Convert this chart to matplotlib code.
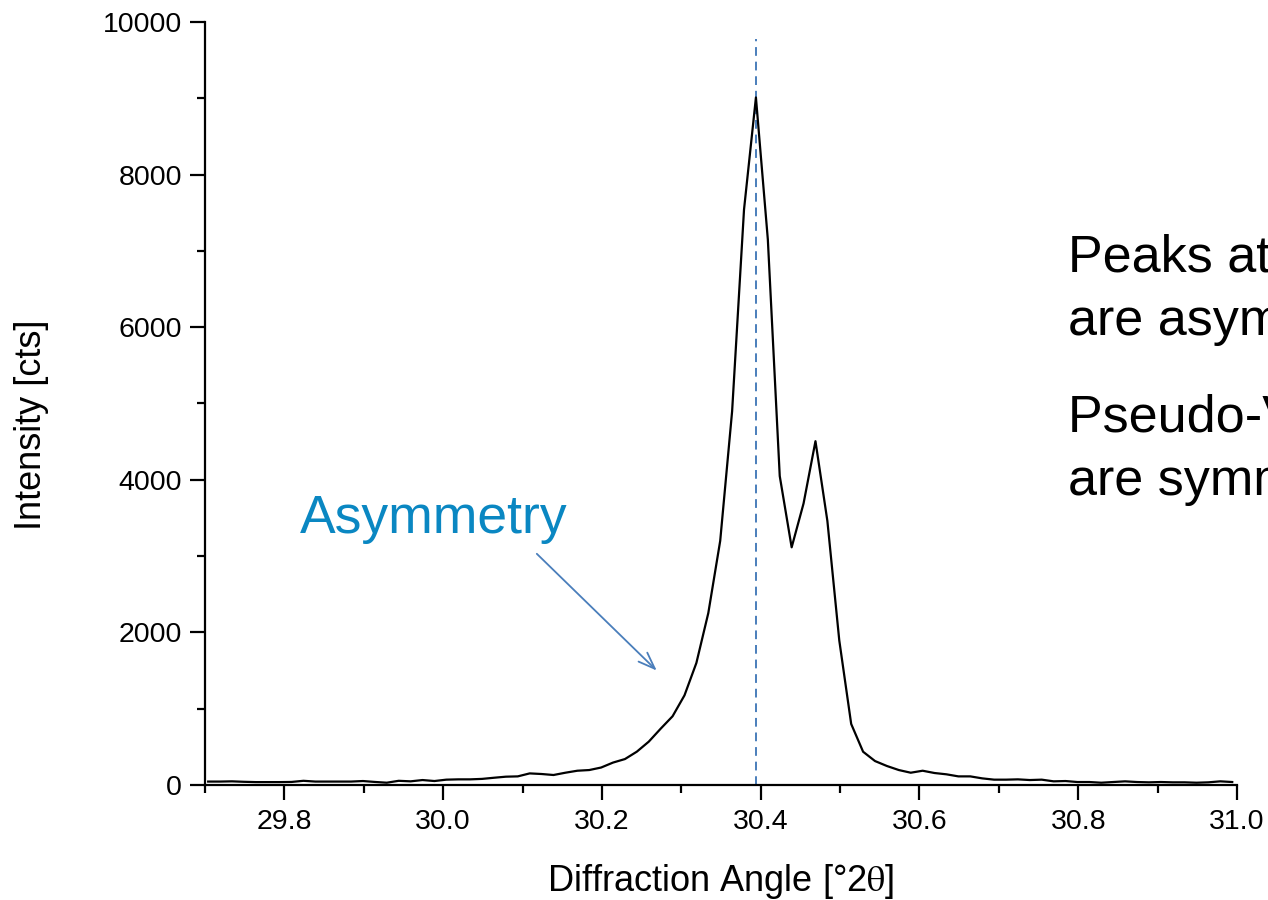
import numpy as np
import matplotlib
matplotlib.use("Agg")
import matplotlib.pyplot as plt
from matplotlib.ticker import MultipleLocator

plt.rcParams['font.family'] = ['Liberation Sans', 'DejaVu Sans']
plt.rcParams['mathtext.fontset'] = 'stix'

# Scan grid (start, step) and measured intensities
angle_start = 29.704
angle_step = 0.015
intensity = [45, 45, 48, 42, 38, 38, 38, 40, 55, 45,
             45, 45, 45, 52, 40, 30, 55, 48, 65, 52,
             70, 74, 74, 80, 95, 109, 113, 152, 144, 131,
             161, 187, 196, 229, 294, 340, 437, 568, 738, 901,
             1175, 1600, 2253, 3200, 4898, 7542, 9011, 7150, 4049, 3115,
             3690, 4506, 3461, 1894, 800, 436, 314, 249, 196, 161,
             187, 157, 140, 113, 113, 87, 70, 70, 74, 65,
             70, 48, 52, 39, 39, 30, 39, 48, 39, 35,
             39, 35, 35, 30, 35, 48, 39]
angle = np.round(angle_start + angle_step * np.arange(len(intensity)), 4)

peak_position = 30.394
peak_line_top = 9780

arrow_start = (30.118, 3030)
arrow_end = (30.269, 1500)

x_ticks = [29.8, 30.0, 30.2, 30.4, 30.6, 30.8, 31.0]
y_ticks = [0, 2000, 4000, 6000, 8000, 10000]

fig = plt.figure(figsize=(12.68, 9.0), dpi=100)
ax = fig.add_axes([205/1268, 1 - 785/900, (1237-205)/1268, (785-22)/900])

ax.plot(angle, intensity, color='black', lw=1.6, zorder=3, clip_on=False)
ax.plot([peak_position, peak_position], [0, peak_line_top], color='#4a7ebb',
        lw=1.4, ls=(0, (4.5, 3)), zorder=2)

ax.annotate('', xy=arrow_end, xytext=arrow_start,
            arrowprops=dict(arrowstyle='->,head_length=1.2,head_width=0.45',
                            color='#4a7ebb', lw=1.3, shrinkA=0, shrinkB=0))
ax.text(29.819, 3300, 'Asymmetry', color='#0a87c2', fontsize=38.5,
        ha='left', va='baseline')

fs_note = 37.5
fig.text(1068/1268, 1 - 272/900, 'Peaks at low angles', fontsize=fs_note,
         ha='left', va='baseline')
fig.text(1068/1268, 1 - 335/900, 'are asymmetric', fontsize=fs_note,
         ha='left', va='baseline')
fig.text(1068/1268, 1 - 432/900, 'Pseudo-Voigt profiles', fontsize=fs_note,
         ha='left', va='baseline')
fig.text(1068/1268, 1 - 495/900, 'are symmetric', fontsize=fs_note,
         ha='left', va='baseline')

ax.set_xlim(29.7, 31.0)
ax.set_ylim(0, 10000)
ax.set_xticks(x_ticks)
ax.set_xticklabels([f'{v:.1f}' for v in x_ticks])
ax.set_yticks(y_ticks)
ax.set_yticklabels([str(v) for v in y_ticks])
ax.xaxis.set_minor_locator(MultipleLocator(0.1))
ax.yaxis.set_minor_locator(MultipleLocator(1000))

for s in ['top', 'right']:
    ax.spines[s].set_visible(False)
for s in ['left', 'bottom']:
    ax.spines[s].set_linewidth(1.6)

ax.tick_params(which='major', direction='out', length=10.5, width=1.6,
               labelsize=20.5, pad=6)
ax.tick_params(which='minor', direction='out', length=5.5, width=1.6)
ax.tick_params(axis='x', which='major', pad=7)

ax.set_xlabel(r'Diffraction Angle [°2$\mathrm{\theta}$]', fontsize=26, labelpad=19)
ax.set_ylabel('Intensity [cts]', fontsize=26, labelpad=39)
ax.yaxis.label.set_y(0.5 - 21/763)

fig.savefig('out.png', dpi=100)
